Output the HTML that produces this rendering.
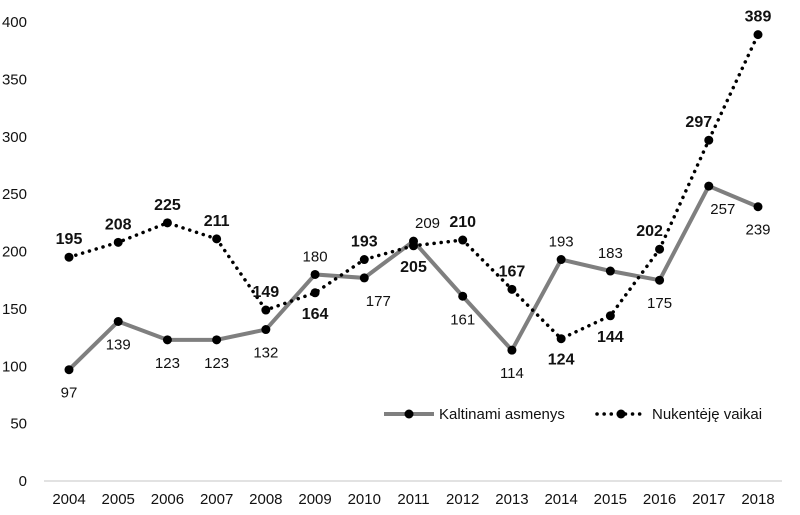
<!DOCTYPE html>
<html><head><meta charset="utf-8"><style>
html,body{margin:0;padding:0;background:#fff;}
svg{display:block;font-family:"Liberation Sans",sans-serif;}
</style></head><body>
<svg id="chart" width="800" height="515"></svg>
<script>
const years=[2004,2005,2006,2007,2008,2009,2010,2011,2012,2013,2014,2015,2016,2017,2018];
const accused=[97,139,123,123,132,180,177,209,161,114,193,183,175,257,239];
const victims=[195,208,225,211,149,164,193,205,210,167,124,144,202,297,389];
const accusedLabelPos=['b','b','b','b','b','a','br','ar','b','b','a','a','b','br','b'];
const victimsLabelPos=['a','a','a','a','a','b','a','b','a','a','b','b','al','al','a'];
const yTicks=[0,50,100,150,200,250,300,350,400];
const svg=document.getElementById('chart');
const NS='http://www.w3.org/2000/svg';
const x=i=>69+i*(758-69)/(years.length-1);
const y=v=>481-v*(481-22)/400;
function mk(t,a,p){const e=document.createElementNS(NS,t);for(const k in a)e.setAttribute(k,a[k]);(p||svg).appendChild(e);return e;}
const base=mk('line',{x1:44,x2:782,y1:481,y2:481,stroke:'#d9d9d9','stroke-width':1.5});


yTicks.forEach(v=>{const t=mk('text',{x:27,y:y(v)+5,'text-anchor':'end','font-size':15,fill:'#111'});t.textContent=v;

});
years.forEach((yr,i)=>{const t=mk('text',{x:x(i),y:504,'text-anchor':'middle','font-size':15,fill:'#111'});t.textContent=yr;

});
const dotted={stroke:'#000','stroke-width':3.5,'stroke-dasharray':'0.1 7','stroke-linecap':'round'};
function series(vals,name,style,pos,bold){
 const pts=vals.map((v,i)=>x(i)+','+y(v)).join(' ');
 const l=mk('polyline',Object.assign({points:pts,fill:'none'},style));
 
 
 vals.forEach((v,i)=>{
  const c=mk('circle',{cx:x(i),cy:y(v),r:4.5,fill:'#000'});
  
  
  let dx=0,dy=0;const p=pos[i];
  if(p[0]==='a')dy=-13;else dy=bold?26:28;
  if(p[1]==='r')dx=14;if(p[1]==='l')dx=-10;
  const t=mk('text',{x:x(i)+dx,y:y(v)+dy,'text-anchor':'middle','font-size':bold?16:15,'font-weight':bold?'bold':'normal',fill:'#111'});
  t.textContent=v;
  
  
 });
}
series(accused,'accused',{stroke:'#7f7f7f','stroke-width':4},accusedLabelPos,false);
series(victims,'victims',dotted,victimsLabelPos,true);
const g=mk('g',{});


mk('line',{x1:384,x2:434,y1:414,y2:414,stroke:'#7f7f7f','stroke-width':4},g);
mk('circle',{cx:409,cy:414,r:4.5,fill:'#000'},g);
const t1=mk('text',{x:439,y:419,'font-size':15,fill:'#111'},g);t1.textContent='Kaltinami asmenys';


mk('line',Object.assign({x1:597,x2:641,y1:414,y2:414},dotted),g);
mk('circle',{cx:621,cy:414,r:4.5,fill:'#000'},g);
const t2=mk('text',{x:652,y:419,'font-size':15,fill:'#111'},g);t2.textContent='Nukentėję vaikai';


</script>
</body></html>
